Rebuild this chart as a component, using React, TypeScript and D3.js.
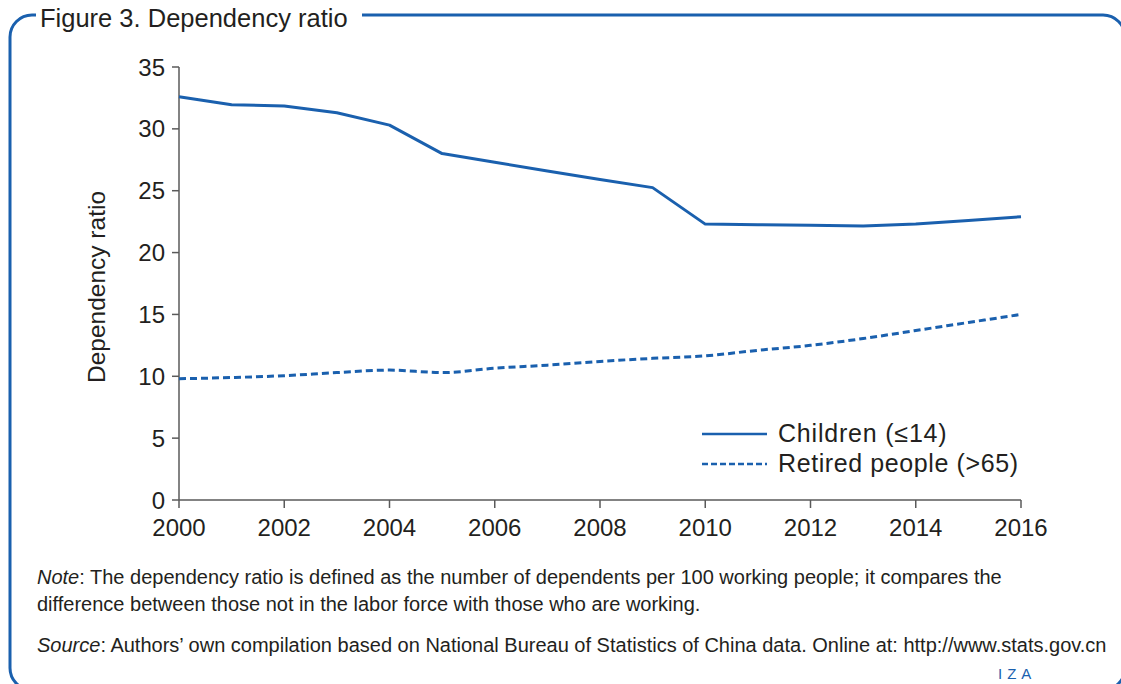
import React from "react";
import * as d3 from "d3";

const years = [2000, 2001, 2002, 2003, 2004, 2005, 2006, 2007, 2008, 2009, 2010, 2011, 2012, 2013, 2014, 2015, 2016];
const children = [32.6, 31.95, 31.85, 31.3, 30.3, 28.0, 27.3, 26.6, 25.9, 25.25, 22.3, 22.25, 22.2, 22.15, 22.3, 22.6, 22.9];
const retired = [9.8, 9.9, 10.05, 10.3, 10.5, 10.3, 10.65, 10.9, 11.2, 11.45, 11.65, 12.1, 12.5, 13.05, 13.7, 14.35, 15.0];
const yTicks = [0, 5, 10, 15, 20, 25, 30, 35];
const xTicks = [2000, 2002, 2004, 2006, 2008, 2010, 2012, 2014, 2016];

const BLUE = "#1a60ae";
const TEXT = "#231f20";
const AXIS = "#5a5a5a";
const FONT = "'Liberation Sans', Arial, sans-serif";

export default function App() {
  const W = 1121, H = 684;
  const x = d3.scaleLinear().domain([2000, 2016]).range([179, 1021]);
  const y = d3.scaleLinear().domain([0, 35]).range([500, 67]);
  const lineChildren = d3.line<number>().x((_, i) => x(years[i])).y((d) => y(d)).curve(d3.curveLinear);
  const lineRetired = d3.line<number>().x((_, i) => x(years[i])).y((d) => y(d)).curve(d3.curveMonotoneX);

  return (
    <svg width={W} height={H} style={{ position: "absolute", left: 0, top: 0 }} fontFamily={FONT}>
      <rect x={0} y={0} width={W} height={H} fill="#fff" />
      <rect x={10} y={15} width={1115} height={675} rx={22} fill="none" stroke={BLUE} strokeWidth={3} />
      <rect x={36} y={0} width={326} height={32} fill="#fff" />
      <text x={40} y={27} fontSize={25.5} fill={TEXT}>Figure 3. Dependency ratio</text>

      {/* axes */}
      <line x1={x(2000)} x2={x(2000)} y1={y(35)} y2={y(0)} stroke={AXIS} strokeWidth={1.5} />
      <line x1={x(2000)} x2={x(2016)} y1={y(0)} y2={y(0)} stroke={AXIS} strokeWidth={1.5} />
      {yTicks.map((t) => (
        <g key={t}>
          <line x1={x(2000) - 7} x2={x(2000)} y1={y(t)} y2={y(t)} stroke={AXIS} strokeWidth={1.5} />
          <text x={165} y={y(t) + 8.5} fontSize={24} textAnchor="end" fill={TEXT}>{t}</text>
        </g>
      ))}
      {xTicks.map((t) => (
        <g key={t}>
          <line x1={x(t)} x2={x(t)} y1={y(0)} y2={y(0) + 8} stroke={AXIS} strokeWidth={1.5} />
          <text x={x(t)} y={536} fontSize={24} textAnchor="middle" fill={TEXT}>{t}</text>
        </g>
      ))}
      <text transform="translate(105,287) rotate(-90)" fontSize={24.5} textAnchor="middle" fill={TEXT}>Dependency ratio</text>

      <path d={lineChildren(children) || ""} fill="none" stroke={BLUE} strokeWidth={3} strokeLinejoin="round" />
      <path d={lineRetired(retired) || ""} fill="none" stroke={BLUE} strokeWidth={3} strokeDasharray="7 4" />

      {/* legend */}
      <line x1={702} x2={767} y1={434} y2={434} stroke={BLUE} strokeWidth={2.5} />
      <text x={778} y={442} fontSize={25} letterSpacing={0.8} fill={TEXT}>Children (≤14)</text>
      <line x1={702} x2={767} y1={464} y2={464} stroke={BLUE} strokeWidth={2.5} strokeDasharray="6 3" />
      <text x={778} y={472} fontSize={25} letterSpacing={0.6} fill={TEXT}>Retired people (&gt;65)</text>

      <text x={37} y={584} fontSize={20} fill={TEXT}><tspan fontStyle="italic">Note</tspan>: The dependency ratio is defined as the number of dependents per 100 working people; it compares the</text>
      <text x={37} y={611} fontSize={20} fill={TEXT}>difference between those not in the labor force with those who are working.</text>
      <text x={37} y={652} fontSize={20} fill={TEXT}><tspan fontStyle="italic">Source</tspan>: Authors’ own compilation based on National Bureau of Statistics of China data. Online at: http://www.stats.gov.cn</text>
      <text x={998} y={679} fontSize={15} fill={BLUE} letterSpacing={5}>IZA</text>
    </svg>
  );
}
